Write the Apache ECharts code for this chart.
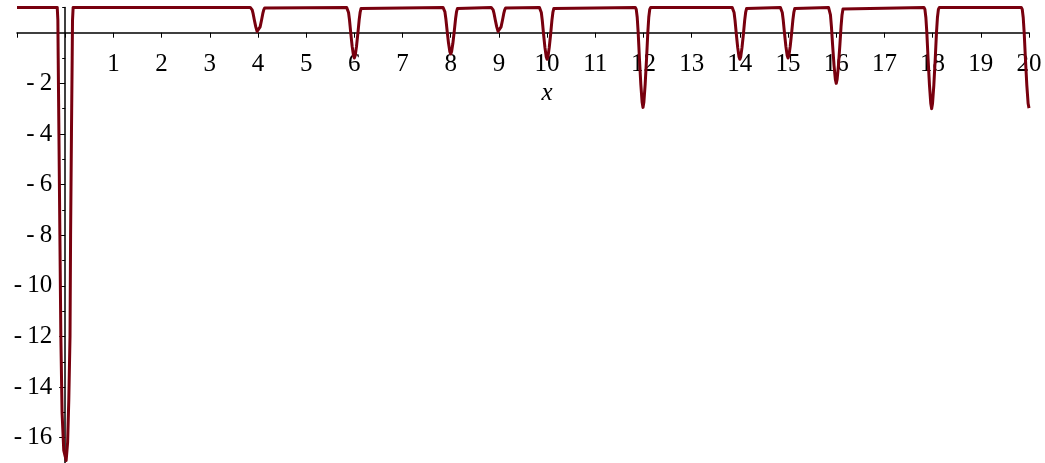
<!DOCTYPE html>
<html>
<head>
<meta charset="utf-8">
<script src="https://cdn.jsdelivr.net/npm/echarts@6/dist/echarts.min.js"></script>
<style>
  html, body { margin: 0; padding: 0; background: #ffffff; }
  #chart { width: 1045px; height: 463px; }
</style>
</head>
<body>
<div id="chart"></div>
<script>
// Curve samples as [x, y] pairs, grouped by feature along the x axis.
const spikeAtZero = [
  [-1, 1], [-0.165, 1], [-0.152, 0.5], [-0.145, -1], [-0.13, -4], [-0.11, -8], [-0.09, -12],
  [-0.065, -15], [-0.03, -16.5], [0.02, -16.9], [0.05, -16.2], [0.075, -14.5], [0.10, -12],
  [0.112, -8], [0.13, -4], [0.145, -1], [0.152, 0.5], [0.165, 1]
];
const dipAt4 = [
  [3.84, 1], [3.86, 0.98], [3.88, 0.9], [3.90, 0.75], [3.925, 0.5], [3.955, 0.23], [3.982, 0.05], [4, 0],
  [4.018, 0.05], [4.045, 0.23], [4.075, 0.5], [4.10, 0.75], [4.12, 0.9], [4.14, 0.98], [4.16, 1]
];
const dipAt6 = [
  [5.84, 1], [5.86, 0.96], [5.88, 0.8], [5.90, 0.5], [5.925, 0], [5.955, -0.54], [5.982, -0.9], [6, -1],
  [6.018, -0.9], [6.045, -0.54], [6.075, 0], [6.10, 0.5], [6.12, 0.8], [6.14, 0.96], [6.16, 1]
];
const dipAt8 = [
  [7.84, 1], [7.86, 0.96], [7.88, 0.82], [7.90, 0.54], [7.925, 0.08], [7.955, -0.42], [7.982, -0.75], [8, -0.84],
  [8.018, -0.75], [8.045, -0.42], [8.075, 0.08], [8.10, 0.54], [8.12, 0.82], [8.14, 0.96], [8.16, 1]
];
const dipAt9 = [
  [8.84, 1], [8.86, 0.98], [8.88, 0.9], [8.90, 0.75], [8.925, 0.5], [8.955, 0.23], [8.982, 0.05], [9, 0],
  [9.018, 0.05], [9.045, 0.23], [9.075, 0.5], [9.10, 0.75], [9.12, 0.9], [9.14, 0.98], [9.16, 1]
];
const dipAt10 = [
  [9.84, 1], [9.86, 0.96], [9.88, 0.8], [9.90, 0.49], [9.925, -0.03], [9.955, -0.58], [9.982, -0.95], [10, -1.05],
  [10.018, -0.95], [10.045, -0.58], [10.075, -0.03], [10.10, 0.49], [10.12, 0.8], [10.14, 0.96], [10.16, 1]
];
const dipAt12 = [
  [11.83, 1], [11.85, 0.92], [11.87, 0.61], [11.89, 0.01], [11.915, -0.98], [11.945, -2.04], [11.972, -2.75], [11.99, -2.95],
  [12.008, -2.75], [12.035, -2.04], [12.065, -0.98], [12.09, 0.01], [12.11, 0.61], [12.13, 0.92], [12.15, 1]
];
const dipAt14 = [
  [13.84, 1], [13.86, 0.96], [13.88, 0.8], [13.90, 0.49], [13.925, -0.03], [13.955, -0.58], [13.982, -0.95], [14, -1.05],
  [14.018, -0.95], [14.045, -0.58], [14.075, -0.03], [14.10, 0.49], [14.12, 0.8], [14.14, 0.96], [14.16, 1]
];
const dipAt15 = [
  [14.84, 1], [14.86, 0.96], [14.88, 0.8], [14.90, 0.5], [14.925, 0], [14.955, -0.54], [14.982, -0.9], [15, -1],
  [15.018, -0.9], [15.045, -0.54], [15.075, 0], [15.10, 0.5], [15.12, 0.8], [15.14, 0.96], [15.16, 1]
];
const dipAt16 = [
  [15.84, 1], [15.86, 0.94], [15.88, 0.7], [15.90, 0.25], [15.925, -0.5], [15.955, -1.31], [15.982, -1.85], [16, -2],
  [16.018, -1.85], [16.045, -1.31], [16.075, -0.5], [16.10, 0.25], [16.12, 0.7], [16.14, 0.94], [16.16, 1]
];
const dipAt18 = [
  [17.82, 1], [17.84, 0.92], [17.86, 0.6], [17.88, 0], [17.905, -1], [17.935, -2.08], [17.962, -2.8], [17.98, -3],
  [17.998, -2.8], [18.025, -2.08], [18.055, -1], [18.08, 0], [18.10, 0.6], [18.12, 0.92], [18.14, 1]
];
const dipAt20 = [
  [19.84, 1], [19.86, 0.92], [19.88, 0.6], [19.90, 0], [19.925, -1], [19.955, -2.08], [19.982, -2.8], [20, -2.98]
];

// Axis ticks and labels
const xTickLabels = [1, 2, 3, 4, 5, 6, 7, 8, 9, 10, 11, 12, 13, 14, 15, 16, 17, 18, 19, 20];
const yTickLabels = [-16, -14, -12, -10, -8, -6, -4, -2];
const yMinorTicks = [-17, -15, -13, -11, -9, -7, -5, -3, -1, 1];

const X_MIN = -1, X_MAX = 20, Y_MIN = -17, Y_MAX = 1;
const FONT = '"Liberation Serif", "Times New Roman", serif';
const LINE_COLOR = '#78000e';

const W = 1045, H = 463;
const GRID = { left: 17, right: 16, top: 7.4, bottom: 0 };
const gridW = W - GRID.left - GRID.right;
const gridH = H - GRID.top - GRID.bottom;
// Offsets that move both axes onto the zero lines of the other axis
const xAxisOffset = -(gridH * (0 - Y_MIN) / (Y_MAX - Y_MIN));
const yAxisOffset = -(gridW * (0 - X_MIN) / (X_MAX - X_MIN));

const points = [].concat(spikeAtZero, dipAt4, dipAt6, dipAt8, dipAt9, dipAt10, dipAt12,
  dipAt14, dipAt15, dipAt16, dipAt18, dipAt20);

const chart = echarts.init(document.getElementById('chart'), null, { renderer: 'canvas' });

const option = {
  animation: false,
  backgroundColor: '#ffffff',
  grid: Object.assign({ containLabel: false, outerBoundsMode: 'none' }, GRID),
  xAxis: {
    type: 'value',
    min: X_MIN,
    max: X_MAX,
    interval: 1,
    position: 'bottom',
    offset: xAxisOffset,
    axisLine: { show: true, onZero: false, lineStyle: { color: '#000', width: 1.5 } },
    axisTick: { show: true, inside: false, length: 5, lineStyle: { color: '#000', width: 1 } },
    axisLabel: {
      show: true,
      margin: 19,
      color: '#000',
      fontFamily: FONT,
      fontSize: 25,
      formatter: (v) => (xTickLabels.indexOf(v) >= 0 ? String(v) : '')
    },
    splitLine: { show: false }
  },
  yAxis: [
    {
      type: 'value',
      min: Y_MIN,
      max: Y_MAX,
      interval: 1,
      position: 'left',
      offset: yAxisOffset,
      axisLine: { show: true, onZero: false, lineStyle: { color: '#000', width: 1.5 } },
      axisTick: { show: true, inside: false, length: 6, customValues: yTickLabels, lineStyle: { color: '#000', width: 1 } },
      axisLabel: {
        show: true,
        margin: 13,
        color: '#000',
        fontFamily: FONT,
        fontSize: 25,
        customValues: yTickLabels,
        formatter: (v) => (yTickLabels.indexOf(v) >= 0 ? '-\u2009' + Math.abs(v) : '')
      },
      splitLine: { show: false }
    },
    {
      type: 'value',
      min: Y_MIN,
      max: Y_MAX,
      interval: 1,
      position: 'left',
      offset: yAxisOffset,
      axisLine: { show: false, onZero: false },
      axisTick: { show: true, inside: false, length: 3, customValues: yMinorTicks, lineStyle: { color: '#000', width: 1 } },
      axisLabel: { show: false },
      splitLine: { show: false }
    }
  ],
  series: [
    {
      type: 'line',
      data: points,
      showSymbol: false,
      clip: false,
      lineStyle: { color: LINE_COLOR, width: 3, join: 'round', cap: 'butt' },
      z: 3
    }
  ]
};

chart.setOption(option);

// Axis title "x", placed below the tick labels at x = 10
const namePos = chart.convertToPixel({ xAxisIndex: 0, yAxisIndex: 0 }, [10, -2.38]);
chart.setOption({
  graphic: [
    {
      type: 'text',
      x: namePos[0],
      y: namePos[1],
      style: {
        text: 'x',
        font: 'italic 25px ' + FONT,
        fill: '#000',
        align: 'center',
        verticalAlign: 'middle'
      },
      z: 10
    }
  ]
});
</script>
</body>
</html>
